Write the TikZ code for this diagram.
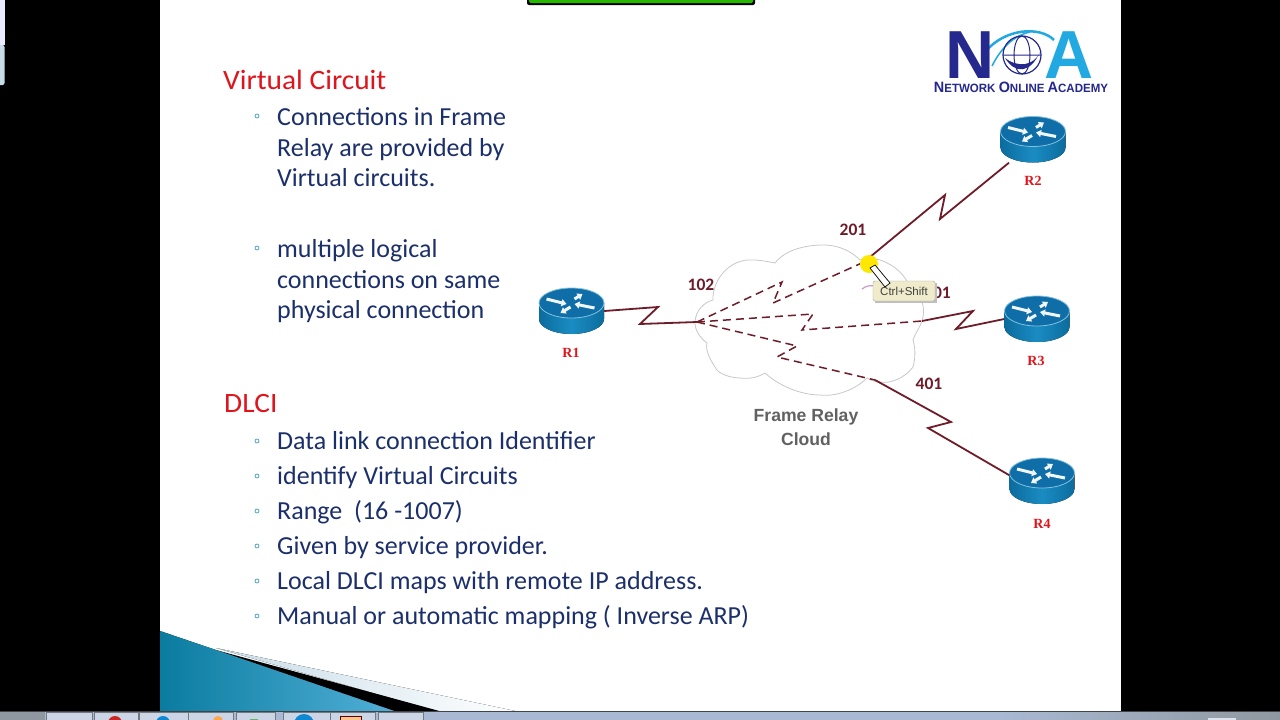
\documentclass[tikz,border=0pt]{standalone}
\usepackage{fontspec}
\setmainfont{Carlito}
\setsansfont{Liberation Sans}
\newfontfamily\routerfont{Liberation Serif}
\usepackage{xcolor}
\usetikzlibrary{positioning,arrows.meta}
\definecolor{slidenavy}{HTML}{1B2F6B}
\definecolor{headred}{HTML}{E0141C}
\definecolor{bulletteal}{HTML}{4FA6BE}
\definecolor{serialred}{HTML}{6F1C2A}
\definecolor{routertop}{HTML}{0F6EA8}
\definecolor{routerside}{HTML}{1A8CC2}
\definecolor{routeredge}{HTML}{0C6C9E}
\definecolor{logonavy}{HTML}{25288C}
\definecolor{logosky}{HTML}{22A9E1}
\definecolor{cloudgrey}{HTML}{C8C8C8}
\definecolor{barblue}{HTML}{A9B9D3}
\definecolor{bargrey}{HTML}{8F98A0}
\definecolor{cornerteal}{HTML}{0A7C9F}
\definecolor{cornersky}{HTML}{52B0D8}
\definecolor{cornerpale}{HTML}{C8DCE8}
\definecolor{tipbeige}{HTML}{EFEBCB}
\tikzset{
  heading/.style={anchor=base west,inner sep=0pt,text=headred,font=\addfontfeatures{FakeStretch=1.05}\fontsize{28}{32}\selectfont},
  bodytext/.style={anchor=west,inner sep=0pt,text=slidenavy,align=left,font=\fontsize{26}{30.5}\selectfont},
  bodyline/.style={bodytext,anchor=base west},
  bulletmark/.style={circle,draw=bulletteal,line width=.8pt,inner sep=0pt,minimum size=4pt},
  routerbox/.style={inner sep=0pt,minimum width=65pt,minimum height=46pt},
  routername/.style={text=headred,font=\routerfont\bfseries\fontsize{14}{16}\selectfont},
  dlci/.style={text=serialred,font=\bfseries\fontsize{17.5}{20}\selectfont},
  serial/.style={draw=serialred,line width=1.8pt,line join=miter},
  virtual/.style={draw=serialred,line width=1.5pt,dash pattern=on 8pt off 5pt},
  taskbtn/.style={fill=barblue!60!white,draw=bargrey!80!black,line width=.5pt},
  routerarrow/.style={white!94!routertop,line width=3pt,-{Triangle[length=5pt,width=7pt]}},
  router/.pic={
    \fill[left color=routeredge,right color=routeredge,middle color=routerside]
      (-32.5,-8) -- (-32.5,8) arc[start angle=180,end angle=0,x radius=32.5,y radius=15] -- (32.5,-8) -- cycle;
    \draw[fill=routertop,draw=routerside!55!white,line width=.8pt] (0,-8) ellipse[x radius=32.5,y radius=15];
    \draw[routerarrow] (-25,-12) -- (-5,-7);
    \draw[routerarrow] (3,-12) -- (11,-17);
    \draw[routerarrow] (-1,-4) -- (-11,2);
    \draw[routerarrow] (23,-3) -- (3,-7);
  }
}
\begin{document}
\begin{tikzpicture}[x=1pt,y=-1pt]
\useasboundingbox (0,0) rectangle (1280,720);
\fill[black] (0,0) rectangle (1280,720);
\fill[white] (160,0) rectangle (1121,712);
\fill[blue!8!white] (-5,-5) rectangle (4.5,45);
\fill[cornerpale,rounded corners=2pt] (-5,45) rectangle (4.5,85);
% banner at the top
\fill[black,rounded corners=2pt] (527,-5) rectangle (755,5);
\fill[green!45!black!60!green!85!yellow,rounded corners=1.5pt] (529,-5) rectangle (753,3);
% corner of the slide
\fill[left color=cornerpale,right color=white] (216,648) -- (520,712) -- (440,712) -- cycle;
\fill[black] (216,650) -- (443,712) -- (397,712) -- cycle;
\fill[left color=cornerteal,right color=cornersky] (160,631) -- (216,650) -- (397,712) -- (160,712) -- cycle;
% left column
\node[heading] (vc) at (223,89) {Virtual Circuit};
\node[bodytext] (conn) at (277,147.5) {Connections in Frame\\Relay are provided by\\Virtual circuits.};
\node[bodytext] (logic) at (277,281.5) {multiple logical\\connections on same\\physical connection};
\node[heading] (dl) at (224,412) {DLCI};
\node[bodyline] (t1) at (277,449) {Data link connection Identifier};
\node[bodyline] (t2) at (277,484) {identify Virtual Circuits};
\node[bodyline] (t3) at (277,519) {Range\ \ (16 -1007)};
\node[bodyline] (t4) at (277,554) {Given by service provider.};
\node[bodyline] (t5) at (277,589) {Local DLCI maps with remote IP address.};
\node[bodyline] (t6) at (277,624) {Manual or automatic mapping ( Inverse ARP)};
\foreach \y in {116,248,441,476,511,546,581,616}
  \node[bulletmark] at (257,\y) {};
% logo
\draw[logosky,line width=2.5pt] (985,52) .. controls (1005,28) and (1040,26) .. (1054,40);
\draw[logosky,line width=1.5pt] (992,66) .. controls (1000,50) and (1012,36) .. (1030,32);
\node[text=logonavy,font=\sffamily\bfseries\fontsize{68}{68}\selectfont,inner sep=0pt] (logoN) at (970,55) {N};
\node[text=logosky,font=\sffamily\bfseries\fontsize{68}{68}\selectfont,inner sep=0pt] (logoA) at (1069,55) {A};
\draw[logonavy,line width=1.2pt] (1022,55) circle (19pt);
\draw[logonavy,line width=1pt] (1022,55) ellipse[x radius=8,y radius=19] (1003,55) -- (1041,55);
\fill[logonavy] (1005,58) .. controls (1015,74) and (1030,74) .. (1040,52) .. controls (1034,66) and (1018,68) .. (1005,58) -- cycle;
\node[text=logonavy,xscale=.96,transform shape,font=\sffamily\bfseries\fontsize{12}{15}\selectfont,inner sep=0pt] (logotxt) at (1021,87)
  {{\fontsize{15}{15}\selectfont N}ETWORK {\fontsize{15}{15}\selectfont O}NLINE {\fontsize{15}{15}\selectfont A}CADEMY};
% cloud
\draw[cloudgrey,line width=.8pt] (695,323) .. controls (695,310) and (705,302) .. (713,300)
  .. controls (712,280) and (730,258) .. (753,260) .. controls (760,260) and (770,262) .. (775,263)
  .. controls (785,250) and (805,245) .. (823,245) .. controls (840,245) and (852,252) .. (860,260)
  .. controls (868,258) and (875,258) .. (880,260) .. controls (895,265) and (905,275) .. (910,287)
  .. controls (922,295) and (925,307) .. (923,317) .. controls (921,327) and (915,333) .. (913,340)
  .. controls (916,350) and (915,360) .. (913,367) .. controls (905,378) and (890,384) .. (880,382)
  .. controls (875,382) and (870,380) .. (867,378) .. controls (855,390) and (835,397) .. (820,395)
  .. controls (800,395) and (778,385) .. (765,373) .. controls (757,378) and (748,379) .. (740,378)
  .. controls (728,378) and (718,372) .. (717,370) .. controls (710,360) and (705,350) .. (707,343)
  .. controls (700,338) and (695,330) .. (695,323) -- cycle;
\node[text=black!62,align=center,font=\sffamily\bfseries\fontsize{17.6}{24}\selectfont] (cloudname) at (806,427) {Frame Relay\\Cloud};
% routers
\foreach \r/\px/\py in {R1/571.5/311,R2/1033/139.5,R3/1037/319,R4/1042/481}{
  \node[routerbox] (\r) at (\px,\py) {};
  \pic at (\px,\py) {router};
}
\node[routername] (R1name) at (571,353) {R1};
\node[routername] (R2name) at (1033,181) {R2};
\node[routername] (R3name) at (1036,361) {R3};
\node[routername] (R4name) at (1042,524) {R4};
% frame relay switches
\coordinate (hub) at (697,322);
\coordinate (p2) at (864,262);
\coordinate (p3) at (922,321);
\coordinate (p4) at (875,380);
\draw[serial] (R1.east) -- (658,307) -- (640,324) -- (hub);
\draw[serial] (R2.-136) -- (940,219) -- (945,195) -- (p2);
\draw[serial] (R3.west) -- (956,329) -- (973,311) -- (p3);
\draw[serial] (R4.170) -- (928,428) -- (951,422) -- (p4);
\draw[virtual] (hub) -- (782,282) -- (773,303) -- (p2);
\draw[virtual] (hub) -- (813,314) -- (802,330) -- (p3);
\draw[virtual] (hub) -- (797,346) -- (777,357) -- (p4);
\node[dlci] (d102) at (701,285) {102};
\node[dlci] (d201) at (853,230) {201};
\node[dlci] (d301) at (937.5,293) {301};
\node[dlci] (d401) at (929,384) {401};
% pointer and tooltip
\fill[yellow!90!orange] (869,264) circle (9pt);
\draw[violet!40!white,line width=1.2pt] (862,289) .. controls (866,286) and (870,285) .. (874,286);
\fill[black!25] (875,283) rectangle (937,303);
\node[draw=black!35,fill=tipbeige,rounded corners=1.5pt,minimum width=62pt,minimum height=20pt,inner sep=0pt,
  font=\sffamily\fontsize{11.5}{12}\selectfont,text=black!75] (tip) at (904,291) {Ctrl+Shift};
\draw[fill=white,draw=black,line width=.7pt] (870,268) -- (875,265) -- (890,283) -- (885,287) -- cycle;
% task bar
\fill[left color=barblue,right color=bargrey] (1000,711) rectangle (1280,720);
\fill[barblue] (0,711) rectangle (1000,720);
\fill[bargrey] (0,711) rectangle (45,720);
\foreach \a/\b in {46/92,94/138,139/188,188.5/233,236/275,283/330,330.5/375,378/423}
  \fill[taskbtn] (\a,712) rectangle (\b,722);
\draw[bargrey!45!black,line width=1pt] (0,711.3) -- (1280,711.3);
\draw[white!85!bargrey,line width=.8pt] (8,722) arc[start angle=180,end angle=0,radius=13];
\fill[red!75!black!85!white] (115,723) circle (7pt);
\fill[cyan!70!blue] (163,723) circle (7pt);
\fill[orange!70!white] (218,721) circle (5pt);
\fill[green!50!black!60!white] (250,719) rectangle (258,722);
\fill[cyan!70!blue] (304,724) circle (10pt);
\fill[orange!45!white,draw=red!40!black,line width=.5pt] (340,716) rectangle (361,722);
\fill[white!60!barblue] (1208,718) rectangle (1236,720);
\end{tikzpicture}
\end{document}
